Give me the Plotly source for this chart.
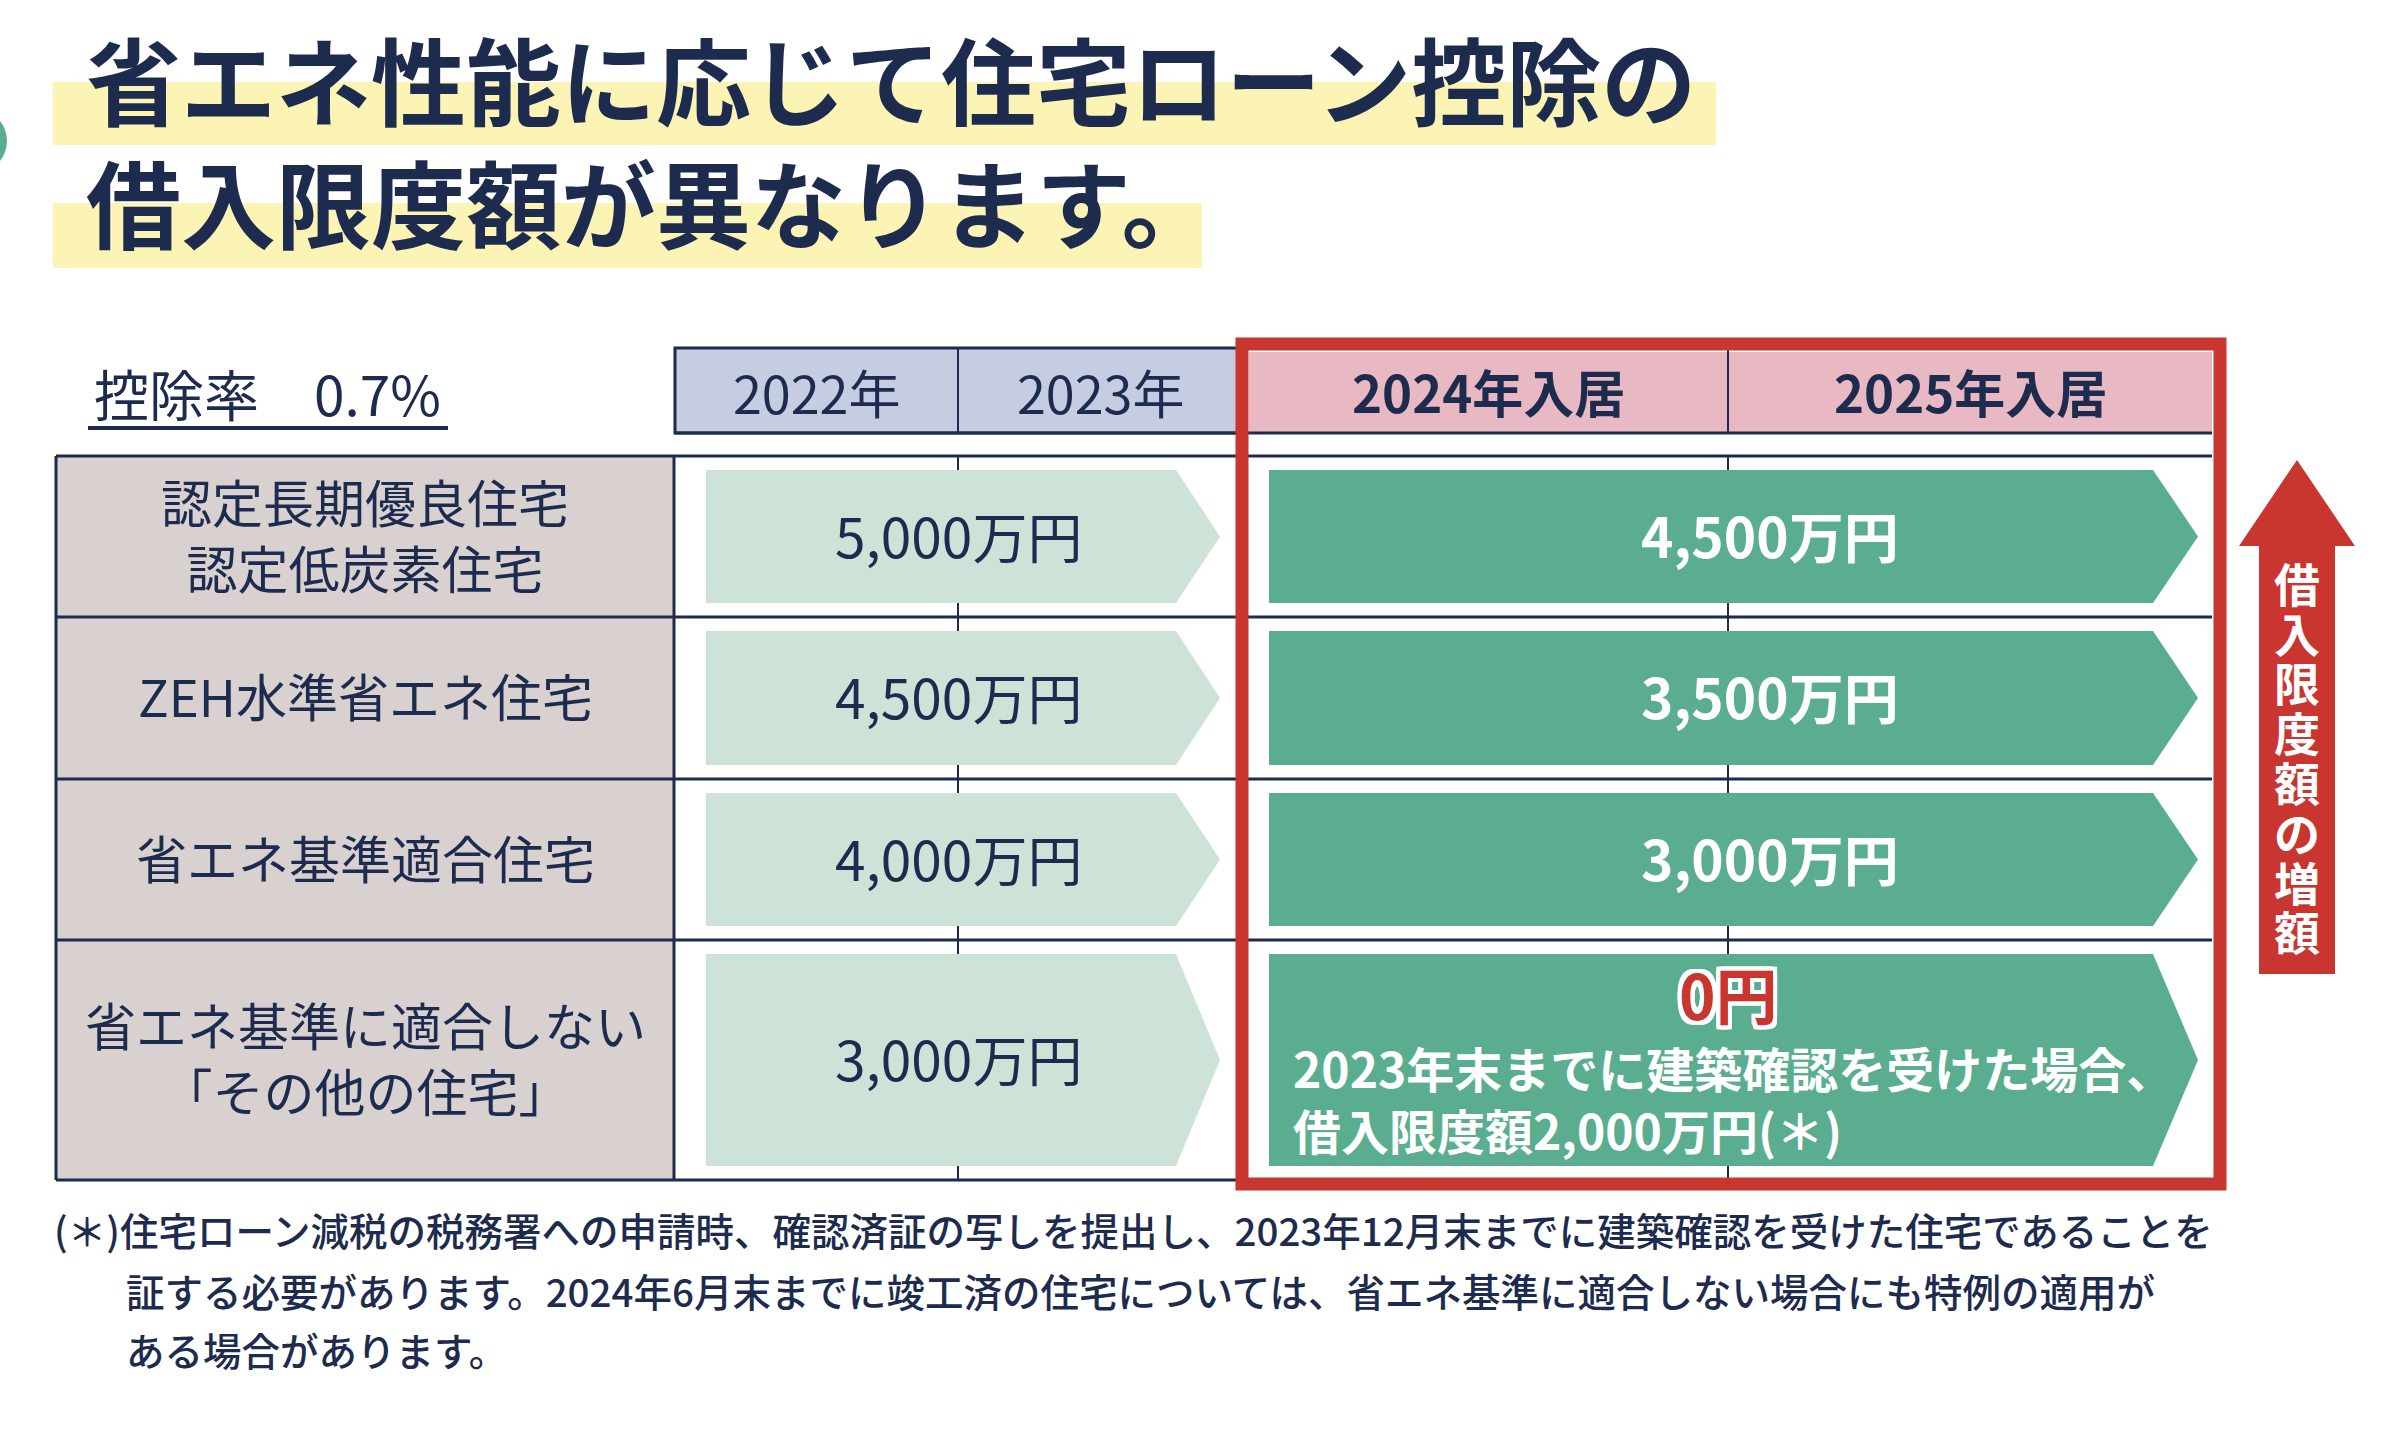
import plotly.graph_objects as go

# ---------------- data ----------------
title_lines = ["省エネ性能に応じて住宅ローン控除の", "借入限度額が異なります。"]
deduction_rate = 0.7  # %
years_before = ["2022年", "2023年"]
years_after = ["2024年入居", "2025年入居"]
housing_types = [
    "認定長期優良住宅<br>認定低炭素住宅",
    "ZEH水準省エネ住宅",
    "省エネ基準適合住宅",
    "省エネ基準に適合しない<br>「その他の住宅」",
]
limit_2022_2023 = [5000, 4500, 4000, 3000]  # 万円
limit_2024_2025 = [4500, 3500, 3000, 0]     # 万円
special_limit = 2000                         # 万円 (建築確認 2023年末まで)
special_note = "2023年末までに建築確認を受けた場合、"
side_label = "借入限度額の増額"
footnote_lines = [
    "(＊)住宅ローン減税の税務署への申請時、確認済証の写しを提出し、2023年12月末までに建築確認を受けた住宅であることを",
    "証する必要があります。2024年6月末までに竣工済の住宅については、省エネ基準に適合しない場合にも特例の適用が",
    "ある場合があります。",
]

# ---------------- geometry / style ----------------
W, H = 2400, 1448
NAVY = "#1d2b4e"
RED = "#c9352f"
DARK_GREEN = "#5aae8f"
LIGHT_GREEN = "#cde3d7"
LAVENDER = "#c6cce2"
PINK = "#e8b8c3"
GREY = "#d9d1d0"
YELLOW = "#fcf4b4"
FONT = "Noto Sans CJK JP"

ROW_EDGES = [456, 617, 779, 940, 1180]
LEFT_X0, LEFT_X1 = 56, 674
OLD_X0, OLD_MID, OLD_X1 = 675, 958, 1242
NEW_X0, NEW_MID, NEW_X1 = 1249, 1728, 2212
HEAD_Y0, HEAD_Y1 = 350, 433
ARROW_INSET = 14
OLD_ARROW = (706, 1176, 1220)
NEW_ARROW = (1269, 2153, 2198)

fig = go.Figure()
shapes = []
ann = []


def text(x, y, s, size, color=NAVY, weight="normal", xanchor="center", shadow=None, align="center"):
    f = dict(family=FONT, size=size, color=color, weight=weight)
    if shadow:
        f["shadow"] = shadow
    ann.append(dict(x=x, y=y - 0.05 * size, xref="x", yref="y", text=s, showarrow=False,
                    xanchor=xanchor, yanchor="middle", align=align, font=f))


def line(x0, y0, x1, y1, color=NAVY, width=3, layer="below"):
    shapes.append(dict(type="line", xref="x", yref="y", x0=x0, y0=y0, x1=x1, y1=y1,
                       line=dict(color=color, width=width), layer=layer))


def rect(x0, y0, x1, y1, fill, lc=None, lw=0, layer="below"):
    shapes.append(dict(type="rect", xref="x", yref="y", x0=x0, y0=y0, x1=x1, y1=y1,
                       fillcolor=fill, line=dict(color=lc or fill, width=lw), layer=layer))


# decorative circle at left edge
shapes.append(dict(type="circle", xref="x", yref="y", x0=-57, y0=109, x1=7, y1=173,
                   fillcolor=DARK_GREEN, line=dict(width=0), layer="below"))

# title with highlight bands
rect(53, 82, 1716, 145, YELLOW)
rect(53, 203, 1202, 268, YELLOW)
text(84, 82, title_lines[0], 95, weight="bold", xanchor="left")
text(84, 205, title_lines[1], 95, weight="bold", xanchor="left")

# deduction rate
text(92, 395, f"控除率　{deduction_rate}%", 55, xanchor="left")
line(88, 428, 448, 428, width=4)

# header cells
rect(OLD_X0, HEAD_Y0 - 2, OLD_X1, HEAD_Y1, LAVENDER, NAVY, 3)
rect(NEW_X0, HEAD_Y0 + 2, NEW_X1, HEAD_Y1, PINK)
line(OLD_MID, HEAD_Y0 - 2, OLD_MID, HEAD_Y1, width=2)
line(NEW_MID, HEAD_Y0, NEW_MID, HEAD_Y1, width=2)
line(OLD_X0, HEAD_Y1, NEW_X1, HEAD_Y1, width=3)
for i, y in enumerate(years_before):
    cx = [(OLD_X0 + OLD_MID) / 2, (OLD_MID + OLD_X1) / 2][i]
    text(cx, 394, y, 52)
for i, y in enumerate(years_after):
    cx = [(NEW_X0 + NEW_MID) / 2, (NEW_MID + NEW_X1) / 2][i]
    text(cx, 394, y, 51, weight="bold")

# body grid
rect(LEFT_X0, ROW_EDGES[0], LEFT_X1, ROW_EDGES[-1], GREY)
line(OLD_MID, ROW_EDGES[0], OLD_MID, ROW_EDGES[-1], width=2)
line(NEW_MID, ROW_EDGES[0], NEW_MID, ROW_EDGES[-1], width=2)
for y in ROW_EDGES:
    line(LEFT_X0, y, NEW_X1, y, width=3)
line(LEFT_X0, ROW_EDGES[0], LEFT_X0, ROW_EDGES[-1], width=3)
line(LEFT_X1, ROW_EDGES[0], LEFT_X1, ROW_EDGES[-1], width=3)

# rows
for i, label in enumerate(housing_types):
    y0 = ROW_EDGES[i] + ARROW_INSET
    y1 = ROW_EDGES[i + 1] - ARROW_INSET
    yc = (ROW_EDGES[i] + ROW_EDGES[i + 1]) / 2
    text((LEFT_X0 + LEFT_X1) / 2, yc, label, 51)
    for (ax0, axr, axt), col in ((OLD_ARROW, LIGHT_GREEN), (NEW_ARROW, DARK_GREEN)):
        ym = (y0 + y1) / 2
        fig.add_trace(go.Scatter(
            x=[ax0, axr, axt, axr, ax0, ax0], y=[y0, y0, ym, y1, y1, y0],
            mode="lines", fill="toself", fillcolor=col, line=dict(width=0, color=col),
            hoverinfo="skip", showlegend=False))
    text(OLD_MID, yc, f"{limit_2022_2023[i]:,}万円", 55)
    v = limit_2024_2025[i]
    if v > 0:
        text(1770, yc, f"{v:,}万円", 55, color="white", weight="bold")
    else:
        s = "#fff"
        outline = ", ".join(f"{dx}px {dy}px 0 {s}" for dx in (-4, -2, 0, 2, 4)
                            for dy in (-4, -2, 0, 2, 4) if (dx, dy) != (0, 0))
        text(NEW_MID, yc - 64, f"{v}円", 62, color=RED, weight="bold", shadow=outline)
        text(1291, yc + 40, f"{special_note}<br>借入限度額{special_limit:,}万円(＊)", 48,
             color="white", weight="bold", xanchor="left", align="left")

# red frame
shapes.append(dict(type="rect", xref="x", yref="y", x0=1242, y0=344, x1=2220, y1=1184,
                   line=dict(color=RED, width=13), fillcolor="rgba(0,0,0,0)", layer="above"))

# red up arrow with vertical label (one glyph per line, tight pitch)
shapes.append(dict(type="path", xref="x", yref="y",
                   path="M 2297 460 L 2355 546 L 2335 546 L 2335 974 L 2259 974 L 2259 546 L 2239 546 Z",
                   fillcolor=RED, line=dict(width=0), layer="above"))
for i, ch in enumerate(side_label):
    text(2297, 584 + i * 49.8, ch, 46, color="white", weight="bold")

# footnote
text(52, 1231, footnote_lines[0], 38.5, weight=500, xanchor="left")
text(124, 1292, footnote_lines[1], 38.5, weight=500, xanchor="left")
text(124, 1351, footnote_lines[2], 38.5, weight=500, xanchor="left")

fig.update_layout(
    width=W, height=H, margin=dict(l=0, r=0, t=0, b=0, pad=0),
    paper_bgcolor="white", plot_bgcolor="white",
    xaxis=dict(range=[0, W], visible=False, fixedrange=True),
    yaxis=dict(range=[H, 0], visible=False, fixedrange=True),
    shapes=shapes, annotations=ann, showlegend=False,
)
fig.write_html("out.html", config={"displayModeBar": False},
               post_script="document.body.style.margin='0';")
